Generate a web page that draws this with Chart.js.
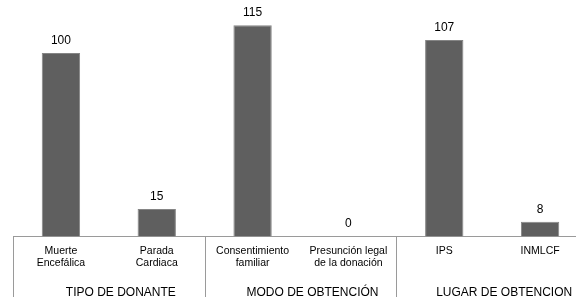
<!DOCTYPE html>
<html>
<head>
<meta charset="utf-8">
<script src="https://cdn.jsdelivr.net/npm/chart.js@4"></script>
<style>
  html, body { margin: 0; padding: 0; background: #fff; overflow: hidden; }
  /* taller and wider than the window: the right and bottom edges get cut like in the source */
  #wrap { width: 600px; height: 307px; }
</style>
</head>
<body>
<div id="wrap"><canvas id="chart"></canvas></div>
<script>
const categories = [
    ["Muerte", "Encefálica"],
    ["Parada", "Cardiaca"],
    ["Consentimiento", "familiar"],
    ["Presunción legal", "de la donación"],
    ["IPS"],
    ["INMLCF"]
];
const groups = ["TIPO DE DONANTE", "MODO DE OBTENCIÓN", "LUGAR DE OBTENCION"];
const values = [100, 15, 115, 0, 107, 8];
// group edges, in category units (-0.5 is the left edge of the first bar slot)
const groupEdges = [-0.5, 1.5, 3.5, 5.5];

const FONT = '"Liberation Sans", Arial, sans-serif';

// numbers above the bars
const valueLabels = {
    id: 'valueLabels',
    afterDatasetsDraw(chart) {
        const ctx = chart.ctx;
        const meta = chart.getDatasetMeta(0);
        ctx.save();
        ctx.font = '12px ' + FONT;
        ctx.fillStyle = '#000';
        ctx.textAlign = 'center';
        ctx.textBaseline = 'alphabetic';
        meta.data.forEach(function(bar, i) {
            ctx.fillText(String(values[i]), bar.x, bar.y - 9);
        });
        ctx.restore();
    }
};

// vertical lines between the groups, under the axis
const groupDividers = {
    id: 'groupDividers',
    afterDraw(chart) {
        const ctx = chart.ctx;
        const x = chart.scales.x;
        ctx.save();
        ctx.strokeStyle = '#9a9a9a';
        ctx.lineWidth = 1;
        groupEdges.forEach(function(v) {
            const px = Math.round(x.getPixelForValue(v)) + 0.5;
            ctx.beginPath();
            ctx.moveTo(px, x.top);
            ctx.lineTo(px, chart.height);
            ctx.stroke();
        });
        ctx.restore();
    }
};

new Chart(document.getElementById("chart"), {
    type: 'bar',
    data: {
        labels: categories,
        datasets: [{
            data: values,
            backgroundColor: '#5f5f5f',
            borderColor: '#858585',
            borderWidth: 1,
            barPercentage: 0.4,
            categoryPercentage: 1.0
        }]
    },
    options: {
        animation: false,
        responsive: true,
        maintainAspectRatio: false,
        layout: { padding: { left: 13, right: 12, top: 7, bottom: 0 } },
        plugins: {
            legend: { display: false },
            tooltip: { enabled: false }
        },
        scales: {
            y: {
                display: false,
                min: 0,
                max: 125
            },
            x: {
                weight: 0,
                offset: true,
                border: { display: true, color: '#9a9a9a', width: 1 },
                grid: { display: false, drawTicks: false },
                ticks: {
                    padding: 9,
                    color: '#000',
                    maxRotation: 0,
                    autoSkip: false,
                    font: { family: FONT, size: 10.5, lineHeight: 1.15 }
                }
            },
            groupX: {
                type: 'category',
                labels: groups,
                position: 'bottom',
                weight: 1,
                offset: true,
                border: { display: false },
                grid: { display: false, drawTicks: false },
                ticks: {
                    padding: 7,
                    labelOffset: 12,
                    color: '#000',
                    maxRotation: 0,
                    autoSkip: false,
                    font: { family: FONT, size: 12, lineHeight: 1.2 }
                }
            }
        }
    },
    plugins: [valueLabels, groupDividers]
});
</script>
</body>
</html>
